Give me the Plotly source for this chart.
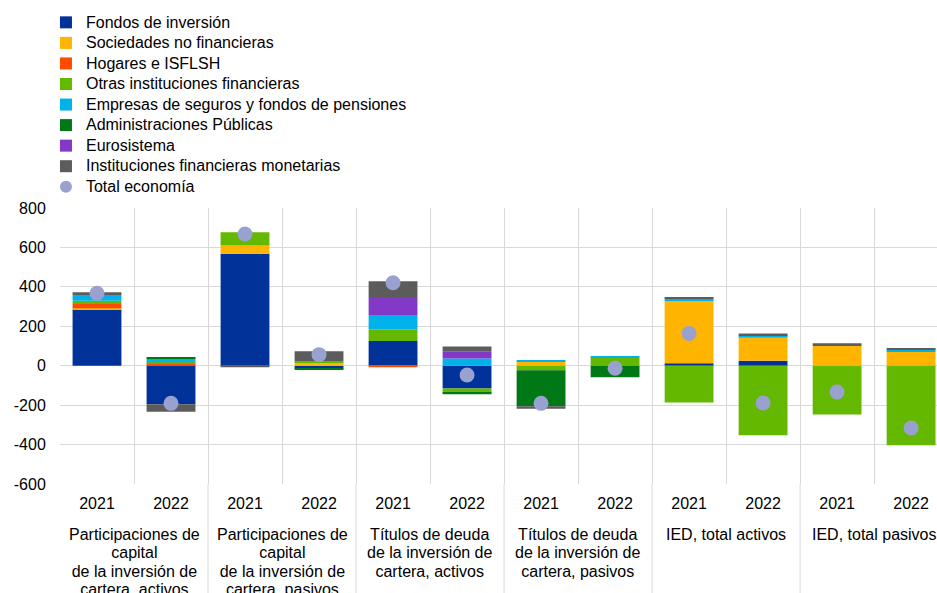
import plotly.graph_objects as go

groups = [
    ["Participaciones de", "capital", "de la inversión de", "cartera, activos"],
    ["Participaciones de", "capital", "de la inversión de", "cartera, pasivos"],
    ["Títulos de deuda", "de la inversión de", "cartera, activos"],
    ["Títulos de deuda", "de la inversión de", "cartera, pasivos"],
    ["IED, total activos"],
    ["IED, total pasivos"],
]
years = ["2021", "2022"]
y_ticks = [-600, -400, -200, 0, 200, 400, 600, 800]
y_ticktext = ["-600", "-400", "-200", "0", "200", "400", "600", "800"]

fondos = [286, -196, 568, -15, 125, -115, 0, 0, 12, 25, 0, 0]
sociedades = [5, 3, 42, 17, 0, 0, 20, 0, 320, 117, 100, 74]
hogares = [22, 9, 0, 0, -8, 0, 0, 0, 0, 0, 0, 0]
otras = [17, 5, 67, 7, 59, -22, -23, 42, -186, -353, -248, -404]
seguros = [29, 20, 0, 0, 73, 37, 7, 7, 10, 12, 0, 9]
admin = [0, 4, 0, -3, 0, -8, -182, -59, 0, 0, 0, 0]
eurosistema = [0, 0, 0, 0, 91, 34, 0, 0, 0, 0, 0, 0]
ifm = [14, -37, -8, 49, 81, 27, -13, 0, 7, 10, 14, 5]
total = [367, -191, 668, 56, 421, -47, -191, -13, 164, -189, -133, -316]

series = [
    ("Fondos de inversión", fondos, "#003299"),
    ("Sociedades no financieras", sociedades, "#FFB400"),
    ("Hogares e ISFLSH", hogares, "#FF4B00"),
    ("Otras instituciones financieras", otras, "#65B800"),
    ("Empresas de seguros y fondos de pensiones", seguros, "#00B1EA"),
    ("Administraciones Públicas", admin, "#007816"),
    ("Eurosistema", eurosistema, "#8139C6"),
    ("Instituciones financieras monetarias", ifm, "#5C5C5C"),
]

# category positions derived from the group/year structure
group_of = [g for g in range(len(groups)) for _ in years]
inner = [y for _ in groups for y in years]
xi = list(range(len(inner)))
boundaries = [i - 0.5 for i in range(len(inner) + 1)]
group_idx = [[i for i in xi if group_of[i] == g] for g in range(len(groups))]
group_centers = [sum(ix) / len(ix) for ix in group_idx]
group_ends = [ix[-1] + 0.5 for ix in group_idx]

def big(t):
    return '<span style="font-size:16px">' + t + '</span>'

grid = "#d9d9d9"
fig = go.Figure()
for name, vals, col in series:
    fig.add_trace(go.Bar(x=xi, y=vals, name=big(name), marker=dict(color=col, line=dict(width=0))))
fig.add_trace(go.Scatter(x=xi, y=total, name=big("Total economía"), mode="markers",
                         marker=dict(color="#98A1D0", size=15)))

for c, lines in zip(group_centers, groups):
    fig.add_annotation(x=c, xref="x", y=-0.146, yref="paper", xanchor="center", yanchor="top",
                       text="<br>".join(big(l) for l in lines), showarrow=False,
                       font=dict(size=14.2, color="#000000"), align="center")
for e in group_ends:
    fig.add_shape(type="line", xref="x", yref="paper", x0=e, x1=e, y0=0, y1=-1,
                  line=dict(color=grid, width=1), layer="below")

font = "Arial, Liberation Sans, sans-serif"
fig.update_layout(
    width=937, height=593,
    margin=dict(l=60, r=0, t=208, b=109, autoexpand=False),
    barmode="relative", bargap=0.34,
    plot_bgcolor="white", paper_bgcolor="white",
    font=dict(family=font, size=16, color="#000000"),
    legend=dict(x=-0.016, y=1.728, xanchor="left", yanchor="top",
                font=dict(size=13.5), traceorder="normal", itemsizing="constant",
                bgcolor="rgba(0,0,0,0)"),
    showlegend=True,
)
fig.update_xaxes(range=[-0.5, 11.35], tickvals=xi, ticktext=inner,
                 showgrid=False, zeroline=False,
                 minor=dict(tickvals=boundaries, showgrid=True, gridcolor=grid, gridwidth=1, ticks=""),
                 ticks="outside", ticklen=5, tickcolor="rgba(0,0,0,0)", showline=False,
                 tickfont=dict(size=16))
fig.update_yaxes(range=[-600, 800], tickvals=y_ticks, ticktext=y_ticktext,
                 showgrid=True, gridcolor=grid,
                 gridwidth=1, zeroline=True, zerolinecolor=grid, zerolinewidth=1,
                 ticks="outside", ticklen=10, tickcolor="rgba(0,0,0,0)", showline=False,
                 tickfont=dict(size=16))

fig.write_html("out.html", config={"displayModeBar": False},
               post_script="document.body.style.margin='0';document.body.style.overflow='hidden';")
